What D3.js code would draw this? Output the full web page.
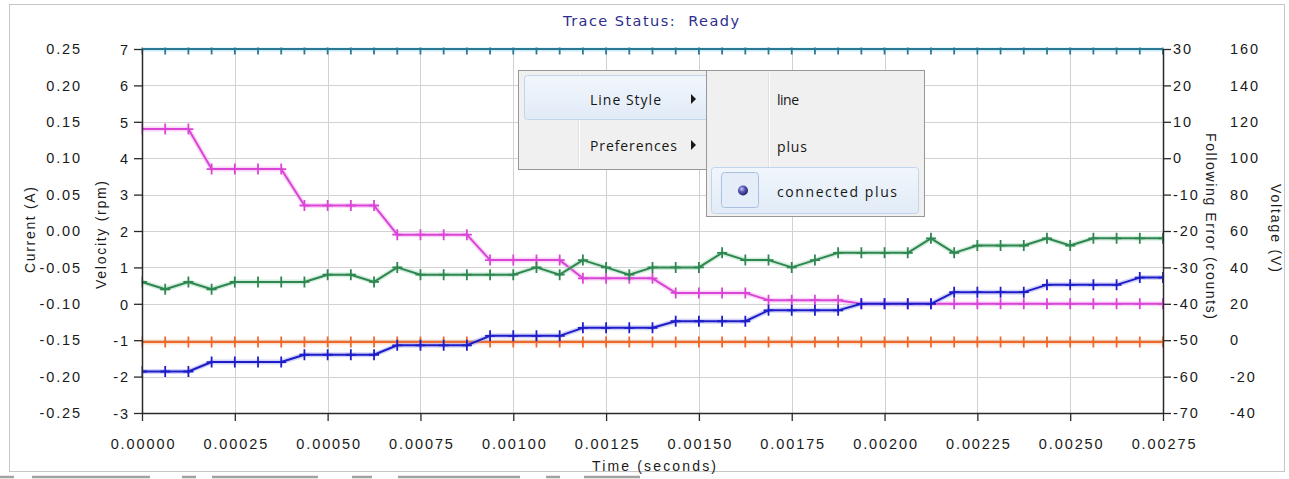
<!DOCTYPE html>
<html>
<head>
<meta charset="utf-8">
<script src="https://cdn.jsdelivr.net/npm/d3@7"></script>
<style>
  html, body { margin: 0; padding: 0; background: #ffffff; }
  svg { display: block; }
  .tick text { font-family: "Liberation Sans", Arial, sans-serif; font-size: 14.5px; fill: #1a1a1a; letter-spacing: 1.9px; }
  .axis-title { font-family: "Liberation Sans", Arial, sans-serif; font-size: 14px; fill: #1a1a1a; }
  .menu-text { font-family: "Open Sans", "Noto Sans", sans-serif; font-size: 14px; fill: #161616; }
</style>
</head>
<body>
<svg id="chart" width="1289" height="479"></svg>
<script>
// ---- sample times (seconds), 62.5 µs sample period ----
const timeSec = [0, 0.0000625, 0.000125, 0.0001875, 0.00025, 0.0003125, 0.000375, 0.0004375, 0.0005,
  0.0005625, 0.000625, 0.0006875, 0.00075, 0.0008125, 0.000875, 0.0009375, 0.001, 0.0010625, 0.001125,
  0.0011875, 0.00125, 0.0013125, 0.001375, 0.0014375, 0.0015, 0.0015625, 0.001625, 0.0016875, 0.00175,
  0.0018125, 0.001875, 0.0019375, 0.002, 0.0020625, 0.002125, 0.0021875, 0.00225, 0.0023125, 0.002375,
  0.0024375, 0.0025, 0.0025625, 0.002625, 0.0026875, 0.00275];

// ---- traced channels ----
const velocityRpm = [0.6, 0.4, 0.6, 0.4, 0.6, 0.6, 0.6, 0.6, 0.8, 0.8,
  0.6, 1.0, 0.8, 0.8, 0.8, 0.8, 0.8, 1.0, 0.8, 1.2,
  1.0, 0.8, 1.0, 1.0, 1.0, 1.4, 1.2, 1.2, 1.0, 1.2,
  1.4, 1.4, 1.4, 1.4, 1.8, 1.4, 1.6, 1.6, 1.6, 1.8,
  1.6, 1.8, 1.8, 1.8, 1.8];

const followingErrorCounts = [8, 8, 8, -3, -3, -3, -3, -13, -13, -13,
  -13, -21, -21, -21, -21, -28, -28, -28, -28, -33,
  -33, -33, -33, -37, -37, -37, -37, -39, -39, -39,
  -39, -40, -40, -40, -40, -40, -40, -40, -40, -40,
  -40, -40, -40, -40, -40];

const currentAmps = [-0.193, -0.193, -0.193, -0.180, -0.180, -0.180, -0.180, -0.170, -0.170, -0.170,
  -0.170, -0.157, -0.157, -0.157, -0.157, -0.144, -0.144, -0.144, -0.144, -0.133,
  -0.133, -0.133, -0.133, -0.124, -0.124, -0.124, -0.124, -0.109, -0.109, -0.109,
  -0.109, -0.100, -0.100, -0.100, -0.100, -0.084, -0.084, -0.084, -0.084, -0.074,
  -0.074, -0.074, -0.074, -0.064, -0.064];

const outputVoltage = [-1, -1, -1, -1, -1, -1, -1, -1, -1, -1,
  -1, -1, -1, -1, -1, -1, -1, -1, -1, -1,
  -1, -1, -1, -1, -1, -1, -1, -1, -1, -1,
  -1, -1, -1, -1, -1, -1, -1, -1, -1, -1,
  -1, -1, -1, -1, -1];

const supplyVoltage = [160, 160, 160, 160, 160, 160, 160, 160, 160, 160,
  160, 160, 160, 160, 160, 160, 160, 160, 160, 160,
  160, 160, 160, 160, 160, 160, 160, 160, 160, 160,
  160, 160, 160, 160, 160, 160, 160, 160, 160, 160,
  160, 160, 160, 160, 160];

// ---- axis ticks ----
const timeTicks = [0, 0.00025, 0.0005, 0.00075, 0.001, 0.00125, 0.0015, 0.00175, 0.002, 0.00225, 0.0025, 0.00275];
const currentTicks = [-0.25, -0.20, -0.15, -0.10, -0.05, 0.00, 0.05, 0.10, 0.15, 0.20, 0.25];
const velocityTicks = [-3, -2, -1, 0, 1, 2, 3, 4, 5, 6, 7];
const followingErrorTicks = [-70, -60, -50, -40, -30, -20, -10, 0, 10, 20, 30];
const voltageTicks = [-40, -20, 0, 20, 40, 60, 80, 100, 120, 140, 160];

// ---- menu entries ----
const mainMenuItems = ["Line Style", "Preferences"];
const lineStyleItems = ["line", "plus", "connected plus"];

// ---- layout ----
const plot = { left: 142, right: 1163, top: 49, bottom: 413 };
const svg = d3.select("#chart");
const defs = svg.append("defs");

const x = d3.scaleLinear().domain([0, 0.00275]).range([plot.left, plot.right]);
const yCurrent = d3.scaleLinear().domain([-0.25, 0.25]).range([plot.bottom, plot.top]);
const yVelocity = d3.scaleLinear().domain([-3, 7]).range([plot.bottom, plot.top]);
const yFollowing = d3.scaleLinear().domain([-70, 30]).range([plot.bottom, plot.top]);
const yVoltage = d3.scaleLinear().domain([-40, 160]).range([plot.bottom, plot.top]);

// outer panel frame
svg.append("rect").attr("x", 9.5).attr("y", 4.5).attr("width", 1275).attr("height", 467)
  .attr("fill", "#ffffff").attr("stroke", "#c6c6c6").attr("stroke-width", 1);

// title
svg.append("text").attr("x", 651).attr("y", 26).attr("text-anchor", "middle")
  .attr("textLength", 176).attr("lengthAdjust", "spacing")
  .style("white-space", "pre")
  .style("font-family", "'DejaVu Sans', Tahoma, sans-serif").style("font-size", "14.5px")
  .attr("fill", "#2e2e8e").text("Trace Status:  Ready");

// grid
const grid = svg.append("g").attr("stroke", "#d2d2d2").attr("stroke-width", 1);
grid.selectAll("line.v").data(timeTicks.slice(1, -1)).join("line").attr("class", "v")
  .attr("x1", d => Math.round(x(d)) + 0.5).attr("x2", d => Math.round(x(d)) + 0.5)
  .attr("y1", plot.top).attr("y2", plot.bottom);
grid.selectAll("line.h").data(velocityTicks.slice(1)).join("line").attr("class", "h")
  .attr("y1", d => Math.round(yVelocity(d)) + 0.5).attr("y2", d => Math.round(yVelocity(d)) + 0.5)
  .attr("x1", plot.left).attr("x2", plot.right);

// clip for traces
defs.append("clipPath").attr("id", "plot-clip").append("rect")
  .attr("x", plot.left - 0.5).attr("y", plot.top - 1.5)
  .attr("width", plot.right - plot.left + 1).attr("height", plot.bottom - plot.top + 2);

const series = [
  { name: "supply", values: supplyVoltage, y: yVoltage, color: "#2a7893", halo: "#8fd6ea" },
  { name: "voltage", values: outputVoltage, y: yVoltage, color: "#ee6a2c", halo: "#f7b48e" },
  { name: "following", values: followingErrorCounts, y: yFollowing, color: "#d946d6", halo: "#f3a6f0" },
  { name: "velocity", values: velocityRpm, y: yVelocity, color: "#2f8650", halo: "#9ed8b2" },
  { name: "current", values: currentAmps, y: yCurrent, color: "#1d1dc8", halo: "#9b9bf2" }
];

const traces = svg.append("g").attr("clip-path", "url(#plot-clip)");
const plusPath = "M-5,0H5M0,-5.5V5.5";

series.forEach(s => {
  const pts = s.values.map((v, i) => [x(timeSec[i]), s.y(v)]);
  const line = d3.line();
  const g = traces.append("g").attr("class", "trace " + s.name);
  g.append("path").attr("d", line(pts)).attr("fill", "none")
    .attr("stroke", s.halo).attr("stroke-width", 5).attr("stroke-opacity", 0.45)
    .attr("stroke-linejoin", "round");
  g.append("path").attr("d", line(pts)).attr("fill", "none")
    .attr("stroke", s.color).attr("stroke-width", 2).attr("stroke-linejoin", "round");
  g.selectAll("path.mark").data(pts).join("path").attr("class", "mark")
    .attr("transform", d => `translate(${d[0]},${d[1]})`)
    .attr("d", plusPath).attr("stroke", s.color).attr("stroke-width", 1.8).attr("fill", "none");
});

// ---- axes ----
function styleAxis(g) {
  g.selectAll(".domain").attr("stroke", "#2a2a2a").attr("stroke-width", 1.5);
  g.selectAll(".tick line").attr("stroke", "#2a2a2a").attr("stroke-width", 1.3);
}

// velocity (left, with axis line)
svg.append("g").attr("transform", `translate(${plot.left},0)`)
  .call(d3.axisLeft(yVelocity).tickValues(velocityTicks).tickSize(8).tickSizeOuter(0).tickPadding(4)
    .tickFormat(d => String(d)))
  .call(styleAxis)
  .call(g => g.selectAll("text").attr("dy", "0.36em"));

// current (label column only)
svg.append("g").attr("transform", "translate(82,0)")
  .call(d3.axisLeft(yCurrent).tickValues(currentTicks).tickSize(0).tickPadding(0)
    .tickFormat(d => d.toFixed(2)))
  .call(g => g.select(".domain").remove())
  .call(g => g.selectAll(".tick line").remove());

// following error (right, with axis line)
svg.append("g").attr("transform", `translate(${plot.right},0)`)
  .call(d3.axisRight(yFollowing).tickValues(followingErrorTicks).tickSize(8).tickSizeOuter(0).tickPadding(2)
    .tickFormat(d => String(d)))
  .call(styleAxis);

// voltage (label column only)
svg.append("g").attr("transform", "translate(1230,0)")
  .call(d3.axisRight(yVoltage).tickValues(voltageTicks).tickSize(0).tickPadding(0)
    .tickFormat(d => String(d)))
  .call(g => g.select(".domain").remove())
  .call(g => g.selectAll(".tick line").remove());

// time (bottom)
svg.append("g").attr("transform", `translate(0,${plot.bottom})`)
  .call(d3.axisBottom(x).tickValues(timeTicks).tickSize(8).tickSizeOuter(0).tickPadding(18)
    .tickFormat(d => d.toFixed(5)))
  .call(styleAxis)
  .call(g => g.selectAll("text").attr("dx", "1px"));

// axis titles
svg.append("text").attr("class", "axis-title")
  .attr("transform", "translate(30,230) rotate(-90)").attr("text-anchor", "middle")
  .attr("dominant-baseline", "central").attr("textLength", 86).attr("lengthAdjust", "spacing")
  .text("Current (A)");
svg.append("text").attr("class", "axis-title")
  .attr("transform", "translate(101,235) rotate(-90)").attr("text-anchor", "middle")
  .attr("dominant-baseline", "central").attr("textLength", 108).attr("lengthAdjust", "spacing")
  .text("Velocity (rpm)");
svg.append("text").attr("class", "axis-title")
  .attr("transform", "translate(1211,226) rotate(90)").attr("text-anchor", "middle")
  .attr("dominant-baseline", "central").attr("textLength", 186).attr("lengthAdjust", "spacing")
  .text("Following Error (counts)");
svg.append("text").attr("class", "axis-title")
  .attr("transform", "translate(1276,228) rotate(90)").attr("text-anchor", "middle")
  .attr("dominant-baseline", "central").attr("textLength", 88).attr("lengthAdjust", "spacing")
  .text("Voltage (V)");
svg.append("text").attr("class", "axis-title")
  .attr("x", 654).attr("y", 471).attr("text-anchor", "middle")
  .attr("textLength", 124).attr("lengthAdjust", "spacing")
  .text("Time (seconds)");

// dark edge of the panel below, partly visible at the bottom
const edge = svg.append("g").attr("stroke", "#555555").attr("stroke-width", 2.5).attr("stroke-opacity", 0.55);
[[0, 14], [32, 150], [182, 196], [212, 318], [352, 372], [398, 520], [546, 560], [584, 640]].forEach(s => {
  edge.append("line").attr("x1", s[0]).attr("x2", s[1]).attr("y1", 477).attr("y2", 477);
});

// ---- context menu ----
const menuFill = "#f0f0f0", menuStroke = "#979797";
const hiGrad = defs.append("linearGradient").attr("id", "menu-hi").attr("x1", 0).attr("y1", 0).attr("x2", 0).attr("y2", 1);
hiGrad.append("stop").attr("offset", "0%").attr("stop-color", "#f1f6fc");
hiGrad.append("stop").attr("offset", "100%").attr("stop-color", "#e1ebf7");
const dotGrad = defs.append("radialGradient").attr("id", "radio-dot").attr("cx", "38%").attr("cy", "35%").attr("r", "65%");
dotGrad.append("stop").attr("offset", "0%").attr("stop-color", "#c9c9f5");
dotGrad.append("stop").attr("offset", "45%").attr("stop-color", "#5a5ab8");
dotGrad.append("stop").attr("offset", "100%").attr("stop-color", "#26266e");

const menu = svg.append("g");
// main menu
menu.append("rect").attr("x", 518.5).attr("y", 70.5).attr("width", 194).attr("height", 99)
  .attr("fill", menuFill).attr("stroke", menuStroke);
menu.append("line").attr("x1", 578.5).attr("x2", 578.5).attr("y1", 73).attr("y2", 167).attr("stroke", "#e0e0e0");
menu.append("line").attr("x1", 579.5).attr("x2", 579.5).attr("y1", 73).attr("y2", 167).attr("stroke", "#ffffff");
menu.append("rect").attr("x", 524.5).attr("y", 75.5).attr("width", 186).attr("height", 44).attr("rx", 3)
  .attr("fill", "url(#menu-hi)").attr("stroke", "#c3d5ea");
const mainRowY = [99, 145];
mainMenuItems.forEach((t, i) => {
  menu.append("text").attr("class", "menu-text").attr("x", 590).attr("y", mainRowY[i])
    .attr("dominant-baseline", "central").attr("textLength", t === "Line Style" ? 71 : 87)
    .attr("lengthAdjust", "spacing").text(t);
  menu.append("path").attr("d", `M${691},${mainRowY[i] - 5}L${696},${mainRowY[i]}L${691},${mainRowY[i] + 5}Z`)
    .attr("fill", "#1a1a1a");
});

// line style submenu
menu.append("rect").attr("x", 706.5).attr("y", 70.5).attr("width", 218).attr("height", 146)
  .attr("fill", menuFill).attr("stroke", menuStroke);
menu.append("line").attr("x1", 768.5).attr("x2", 768.5).attr("y1", 73).attr("y2", 214).attr("stroke", "#e0e0e0");
menu.append("line").attr("x1", 769.5).attr("x2", 769.5).attr("y1", 73).attr("y2", 214).attr("stroke", "#ffffff");
menu.append("rect").attr("x", 711.5).attr("y", 167.5).attr("width", 207).attr("height", 46).attr("rx", 3)
  .attr("fill", "url(#menu-hi)").attr("stroke", "#c3d5ea");
menu.append("rect").attr("x", 721.5).attr("y", 172.5).attr("width", 37).attr("height", 35).attr("rx", 3)
  .attr("fill", "#e4edf8").attr("stroke", "#a9c1de");
menu.append("circle").attr("cx", 743).attr("cy", 190.5).attr("r", 5).attr("fill", "url(#radio-dot)");
const subRowY = [99, 146, 191];
const subLen = [22, 30, 120];
lineStyleItems.forEach((t, i) => {
  menu.append("text").attr("class", "menu-text").attr("x", 777).attr("y", subRowY[i])
    .attr("dominant-baseline", "central").attr("textLength", subLen[i])
    .attr("lengthAdjust", "spacing").text(t);
});
</script>
</body>
</html>
